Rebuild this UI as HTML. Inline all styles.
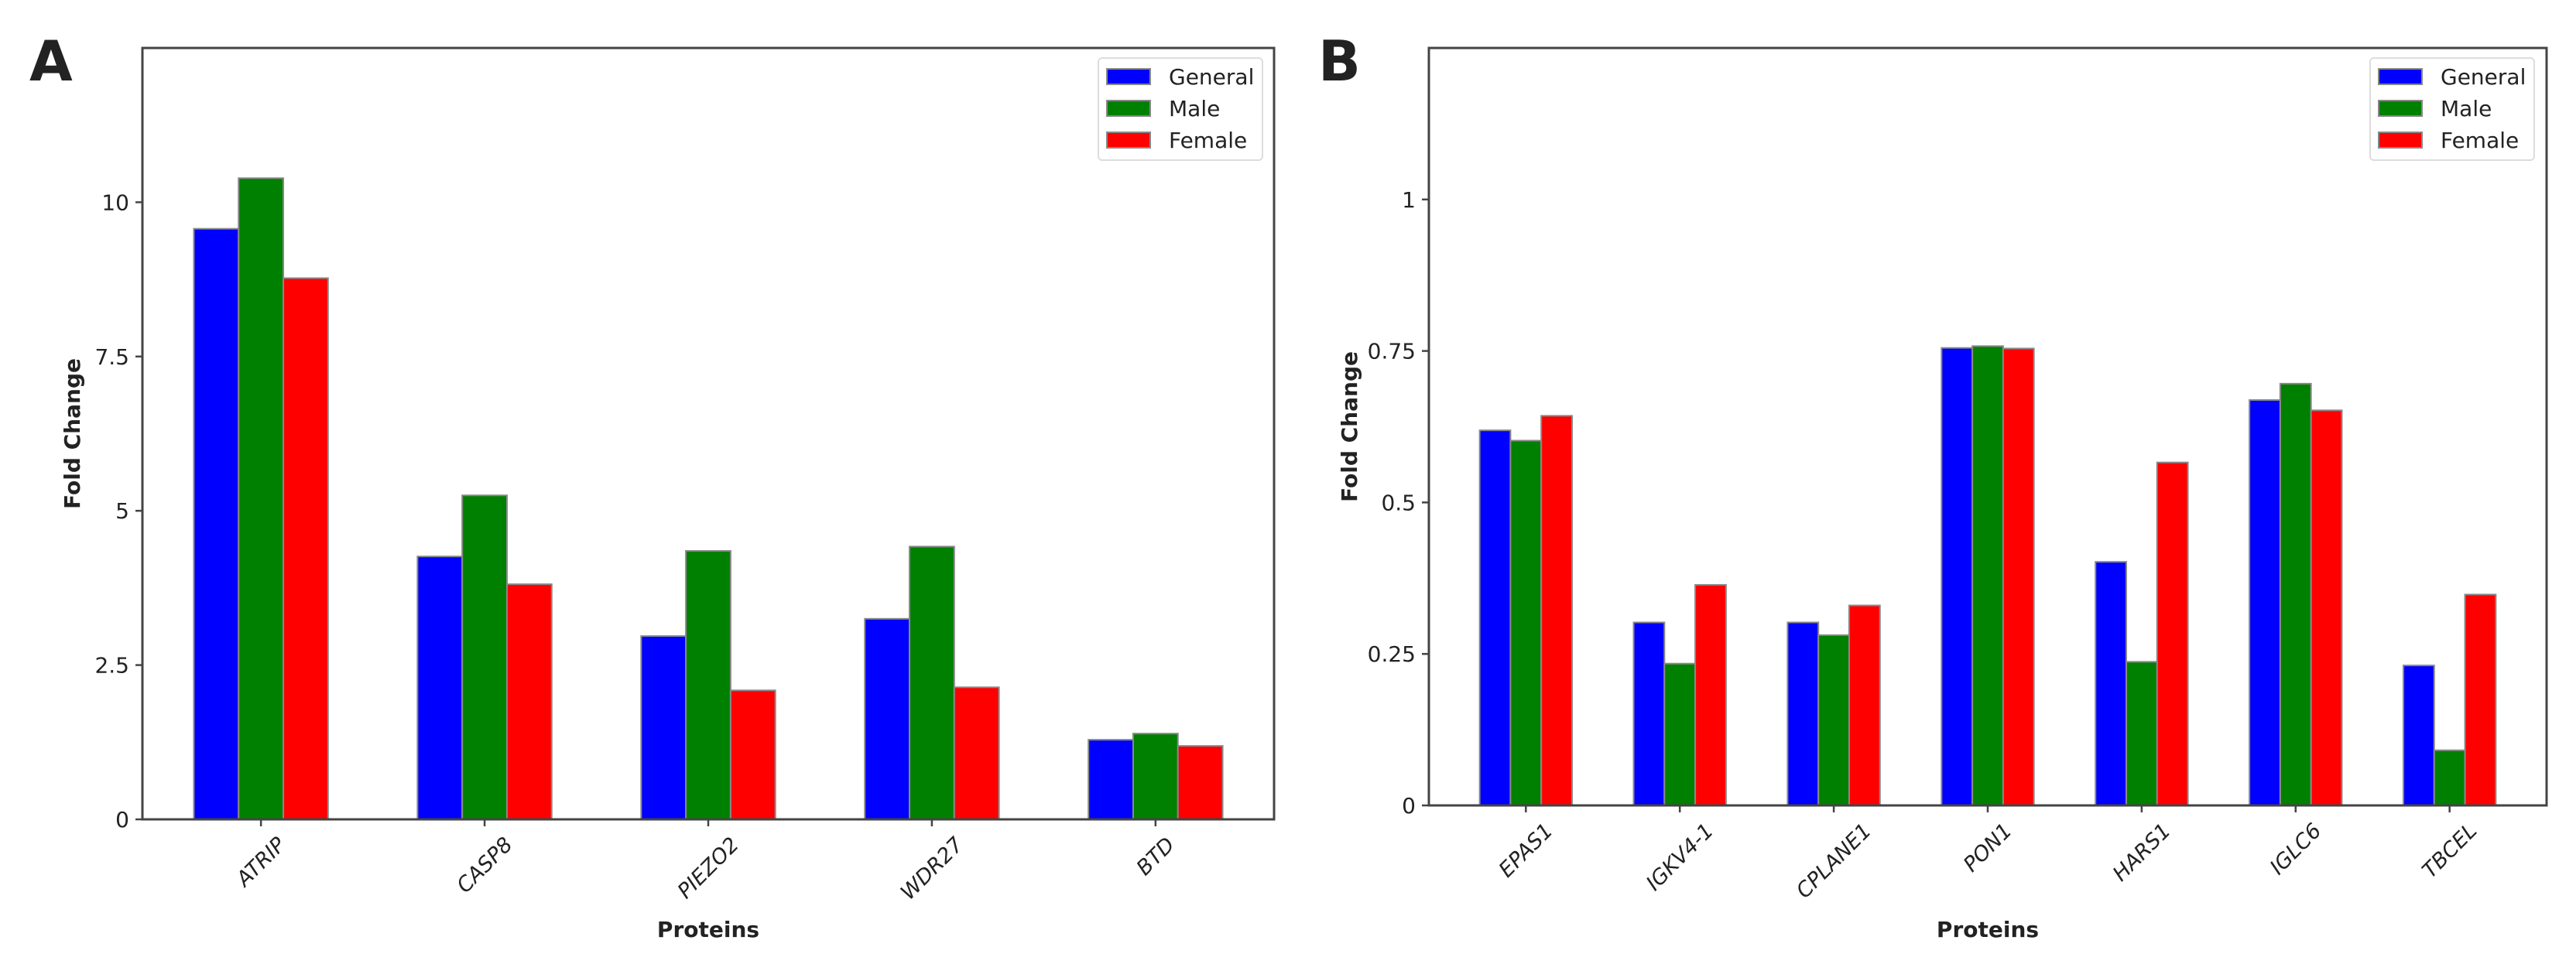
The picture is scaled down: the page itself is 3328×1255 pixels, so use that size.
<!DOCTYPE html>
<html><head><meta charset="utf-8"><style>
html,body{margin:0;padding:0;background:#fff}
svg{display:block}
text{font-family:"DejaVu Sans","Liberation Sans",sans-serif;fill:#222}
</style></head><body>
<svg id="fig" width="3328" height="1255" xmlns="http://www.w3.org/2000/svg"></svg>
<script>
const catsA = ["ATRIP","CASP8","PIEZO2","WDR27","BTD"];
const generalA = [9.57,4.26,2.97,3.25,1.29];
const maleA = [10.39,5.25,4.35,4.42,1.39];
const femaleA = [8.77,3.81,2.09,2.14,1.19];
const ticksA = [0,2.5,5,7.5,10];
const tickLabelsA = ["0","2.5","5","7.5","10"];

const catsB = ["EPAS1","IGKV4-1","CPLANE1","PON1","HARS1","IGLC6","TBCEL"];
const generalB = [0.619,0.302,0.302,0.755,0.402,0.669,0.231];
const maleB = [0.602,0.234,0.281,0.758,0.237,0.696,0.091];
const femaleB = [0.643,0.364,0.330,0.754,0.566,0.652,0.348];
const ticksB = [0,0.25,0.5,0.75,1];
const tickLabelsB = ["0","0.25","0.5","0.75","1"];

const seriesNames = ["General","Male","Female"];
const seriesColors = ["#0000ff","#008000","#ff0000"];

const NS="http://www.w3.org/2000/svg";
const svg=document.getElementById('fig');
function mk(tag,attrs,parent){const e=document.createElementNS(NS,tag);for(const k in attrs)e.setAttribute(k,attrs[k]);(parent||svg).appendChild(e);return e;}

function panel(opt){
  const g=mk('g',{});
  
  
  const L=opt.left,R=opt.right,T=opt.top,B=opt.bottom;
  const n=opt.cats.length;
  const xmin=-0.3-0.05*(n-1+0.6), xmax=n-1+0.3+0.05*(n-1+0.6);
  const xs=v=>L+(v-xmin)/(xmax-xmin)*(R-L);
  const ys=v=>B-(v/opt.ymax)*(B-T);
  const data=[opt.g,opt.m,opt.f];
  for(let s=0;s<3;s++){
    for(let i=0;i<n;i++){
      const x0=xs(i+(s-1)*0.2-0.1), x1=xs(i+(s-1)*0.2+0.1);
      const r=mk('rect',{x:x0,y:ys(data[s][i]),width:x1-x0,height:B-ys(data[s][i]),fill:seriesColors[s],stroke:'#888',"stroke-width":2},g);
      
      
    }
  }
  const frame=mk('rect',{x:L,y:T,width:R-L,height:B-T,fill:'none',stroke:'#444',"stroke-width":3},g);
  
  
  for(let i=0;i<opt.ticks.length;i++){
    const y=ys(opt.ticks[i]);
    mk('line',{x1:L-9,x2:L,y1:y,y2:y,stroke:'#444',"stroke-width":2.5},g);
    const t=mk('text',{x:L-17,y:y+10,"text-anchor":"end","font-size":28},g);
    t.textContent=opt.tickLabels[i];
    
    
  }
  for(let i=0;i<n;i++){
    const x=xs(i);
    mk('line',{x1:x,x2:x,y1:B,y2:B+9,stroke:'#444',"stroke-width":2.5},g);
    const t=mk('text',{x:x,y:0,"text-anchor":"middle","font-size":27,"font-style":"italic"},g);
    t.textContent=opt.cats[i];
    
    
    const w=t.getComputedTextLength();
    const cy=B+18+w*0.354+10;
    t.setAttribute('y',cy+9);
    t.setAttribute('transform',`rotate(-45 ${x} ${cy})`);
  }
  const yl=mk('text',{x:opt.ylabelX,y:(T+B)/2,"text-anchor":"middle","font-size":28,"font-weight":"bold",transform:`rotate(-90 ${opt.ylabelX} ${(T+B)/2})`},g);
  yl.textContent="Fold Change";
  
  
  const xl=mk('text',{x:(L+R)/2,y:1211,"text-anchor":"middle","font-size":28,"font-weight":"bold"},g);
  xl.textContent="Proteins";
  
  
  const pl=mk('text',{x:opt.letterX,y:104,"font-size":72,"font-weight":"bold",fill:"#000"},g);
  pl.textContent=opt.letter;
  
  
  const lg=mk('g',{},g);
  
  
  mk('rect',{x:opt.legX,y:75,width:212,height:132,rx:5,fill:'#fff',stroke:'#ddd',"stroke-width":2},lg);
  for(let s=0;s<3;s++){
    const yy=89+s*41;
    const p=mk('rect',{x:opt.legX+11,y:yy,width:56,height:20,fill:seriesColors[s],stroke:'#888',"stroke-width":2},lg);
    
    
    const t=mk('text',{x:opt.legX+91,y:yy+20,"font-size":28},lg);
    t.textContent=seriesNames[s];
    
    
  }
}
panel({name:'panel-a',letter:'A',letterX:38,left:184,right:1646,top:62,bottom:1059,ymax:12.5,cats:catsA,g:generalA,m:maleA,f:femaleA,ticks:ticksA,tickLabels:tickLabelsA,ylabelX:103,legX:1419});
panel({name:'panel-b',letter:'B',letterX:1703,left:1846,right:3290,top:62,bottom:1041,ymax:1.25,cats:catsB,g:generalB,m:maleB,f:femaleB,ticks:ticksB,tickLabels:tickLabelsB,ylabelX:1753,legX:3062});
</script>
</body></html>
